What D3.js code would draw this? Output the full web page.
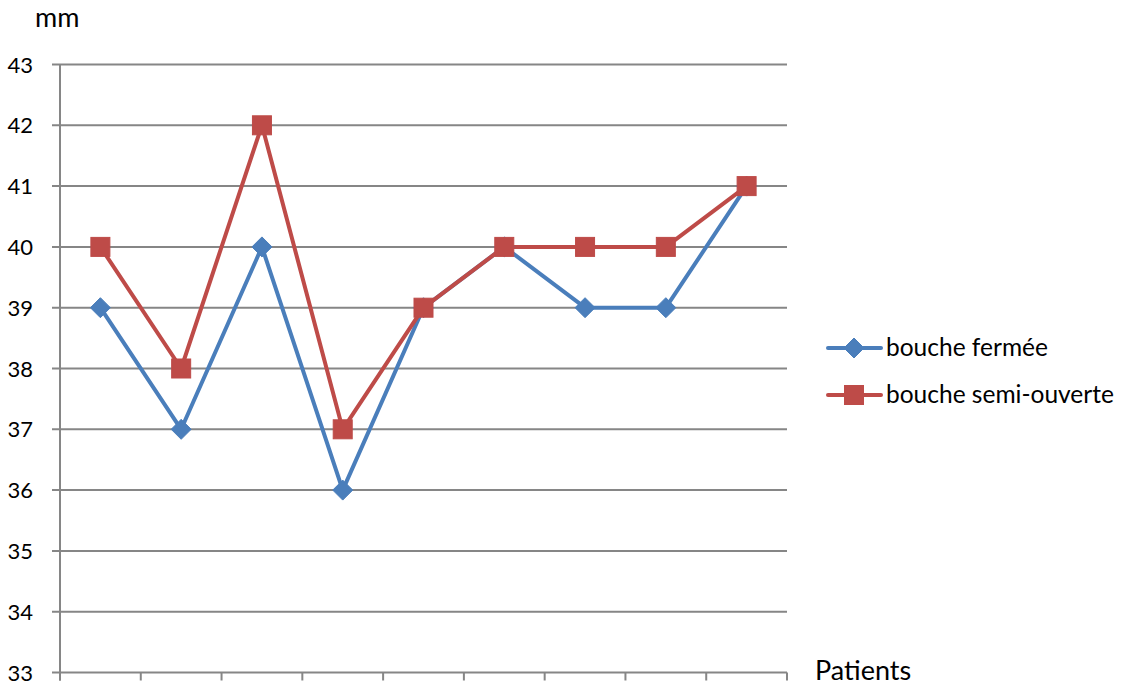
<!DOCTYPE html>
<html><head><meta charset="utf-8">
<script src="https://cdn.jsdelivr.net/npm/d3@7"></script>
<style>body{margin:0;background:#fff}svg{display:block}text{font-family:Lato,"Open Sans",sans-serif;fill:#000}</style>
</head><body>
<svg id="c" width="1122" height="691"></svg>
<script>
const patients = ["P1","P2","P3","P4","P5","P6","P7","P8","P9"];
const fermee = [39,37,40,36,39,40,39,39,41];
const semiOuverte = [40,38,42,37,39,40,40,40,41];
const yTicks = [33,34,35,36,37,38,39,40,41,42,43];
const seriesNames = ["bouche fermée","bouche semi-ouverte"];

const svg = d3.select("#c");
const L=60, R=787, T=64.5, B=672.5;
const x = d3.scaleBand().domain(patients).range([L,R]);
const y = d3.scaleLinear().domain([33,43]).range([B,T]);
const grid="#868686";

svg.append("g").selectAll("line").data(yTicks).join("line")
  .attr("x1",L-8).attr("x2",R).attr("y1",d=>y(d)).attr("y2",d=>y(d))
  .attr("stroke",grid).attr("stroke-width",2);
svg.append("line").attr("x1",L).attr("x2",L).attr("y1",T).attr("y2",B+8).attr("stroke",grid).attr("stroke-width",2);
const xt = patients.map(p=>x(p)+x.bandwidth()).concat([L]);
svg.append("g").selectAll("line").data(xt).join("line")
  .attr("x1",d=>d).attr("x2",d=>d).attr("y1",B).attr("y2",B+8).attr("stroke",grid).attr("stroke-width",2);
svg.append("g").selectAll("text").data(yTicks).join("text")
  .attr("x",33).attr("y",d=>y(d)+8).attr("text-anchor","end").attr("font-size",22).text(d=>d);
svg.append("text").attr("x",35).attr("y",27).attr("font-size",27).text("mm");
svg.append("text").attr("x",815).attr("y",680).attr("font-size",27).text("Patients");

const cx = p=>x(p)+x.bandwidth()/2;
const line = d3.line().x((d,i)=>cx(patients[i])).y(d=>y(d));
const blue="#4A7EBB", red="#BE4B48";
svg.append("path").attr("d",line(fermee)).attr("fill","none").attr("stroke",blue).attr("stroke-width",4).attr("stroke-linejoin","round");
svg.append("path").attr("d",line(semiOuverte)).attr("fill","none").attr("stroke",red).attr("stroke-width",4).attr("stroke-linejoin","round");

function diamond(g,cxv,cyv){g.append("path").attr("d",`M${cxv},${cyv-10}L${cxv+10},${cyv}L${cxv},${cyv+10}L${cxv-10},${cyv}Z`).attr("fill",blue).attr("stroke",blue).attr("stroke-width",1);}
function square(g,cxv,cyv){g.append("rect").attr("x",cxv-9.5).attr("y",cyv-9.5).attr("width",19).attr("height",19).attr("fill",red).attr("stroke",red).attr("stroke-width",1);}
const gm = svg.append("g");
fermee.forEach((v,i)=>diamond(gm,cx(patients[i]),y(v)));
semiOuverte.forEach((v,i)=>square(gm,cx(patients[i]),y(v)));

const lg = svg.append("g");
[[blue,diamond,348],[red,square,395]].forEach(([c,f,ly],i)=>{
  lg.append("line").attr("x1",828).attr("x2",881).attr("y1",ly).attr("y2",ly).attr("stroke",c).attr("stroke-width",4).attr("stroke-linecap","round");
  f(lg,854,ly);
  lg.append("text").attr("x",886).attr("y",ly+8).attr("font-size",24.5).text(seriesNames[i]);
});
</script>
</body></html>
